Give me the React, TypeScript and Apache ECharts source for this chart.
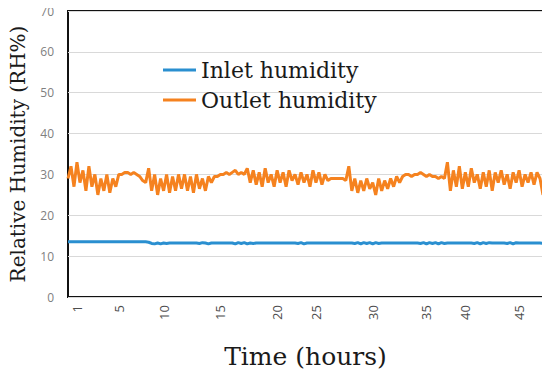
import React, { useEffect, useRef } from "react";
import * as echarts from "echarts";

// Sample points (index along the time record)
const outletHumidity: number[] = [
  29, 32, 27, 33, 28, 31, 26, 32, 27, 30, 25, 29, 26, 30, 25.5, 29, 27, 30,
  30, 30.5, 30.5, 30, 30.5, 30, 29.5,
  28.5, 28,
  31.5, 26, 30, 25, 29, 26, 30, 25.5, 29.5, 26, 30, 26.5, 30, 26, 29.5, 25.5, 30, 26.5, 29, 26, 29.5, 28,
  29.5, 29.5, 30, 30, 30.5, 30, 30.5, 31, 30, 30.5, 30,
  31.5, 28, 31, 27.5, 30.5, 27, 31.5, 28, 30, 27, 31, 28, 30.5, 27, 31, 28.5, 30, 27.5, 30.5, 28, 30, 27, 31, 28, 30.5, 27.5, 30, 28.5,
  29, 29, 29, 29, 29, 28.5,
  32,
  26, 29, 25.5, 28.5, 26, 29, 26.5, 28, 25, 29, 26, 28.5, 26.5, 29, 27, 29.5, 28,
  29.5, 30, 30, 29.5, 30, 30, 30.5, 30, 29.5, 30, 29.5, 29.5, 29, 29.5, 29,
  33,
  26, 31, 27, 32, 26.5, 30.5, 27, 31.5, 28, 30, 26.5, 30.5, 27, 31, 26, 30.5, 28, 31, 27.5, 30, 26.5, 30.5, 28, 31, 27, 30, 28, 30.5, 27.5, 30.5, 29, 25,
];

const inletHumidity: number[] = [
  13.5, 13.5, 13.5, 13.5, 13.5, 13.5, 13.5, 13.5, 13.5, 13.5, 13.5, 13.5, 13.5, 13.5,
  13.5, 13.5, 13.5, 13.5, 13.5, 13.5, 13.5, 13.5, 13.5, 13.5, 13.5, 13.5, 13.5, 13.4,
  13.1, 13.0, 13.2, 13.0, 13.2, 13.1, 13.2, 13.2, 13.2, 13.2, 13.2, 13.2, 13.2, 13.2,
  13.2, 13.2, 13.1, 13.3, 13.2, 13.0, 13.2, 13.2, 13.2, 13.2, 13.2, 13.2, 13.2, 13.2,
  13.0, 13.3, 13.1, 13.3, 13.0, 13.2, 13.1, 13.2, 13.2, 13.2, 13.2, 13.2, 13.2, 13.2,
  13.2, 13.2, 13.2, 13.2, 13.2, 13.2, 13.2, 13.1, 13.3, 13.0, 13.2, 13.2, 13.2, 13.2,
  13.2, 13.2, 13.2, 13.2, 13.2, 13.2, 13.2, 13.2, 13.2, 13.2, 13.2, 13.2, 13.1, 13.3,
  13.0, 13.3, 13.1, 13.3, 13.0, 13.3, 13.1, 13.2, 13.2, 13.2, 13.2, 13.2, 13.2, 13.2,
  13.2, 13.2, 13.2, 13.2, 13.2, 13.2, 13.1, 13.3, 13.0, 13.3, 13.1, 13.3, 13.0, 13.3,
  13.1, 13.2, 13.2, 13.2, 13.2, 13.2, 13.2, 13.2, 13.2, 13.2, 13.1, 13.3, 13.0, 13.3,
  13.1, 13.3, 13.2, 13.2, 13.2, 13.2, 13.2, 13.1, 13.3, 13.0, 13.3, 13.2, 13.2, 13.2,
  13.2, 13.2, 13.2, 13.2, 13.2, 13.1,
];

const tickIndices: number[] = [3, 17, 32, 51, 70, 83, 102, 120, 133, 151];
const tickLabels: string[] = ["1", "5", "10", "15", "20", "25", "30", "35", "40", "45"];

const categories: string[] = outletHumidity.map((_, i) => String(i));

const serif = "'DejaVu Serif', 'Liberation Serif', serif";

export default function App() {
  const ref = useRef<HTMLDivElement>(null);
  useEffect(() => {
    if (!ref.current) return;
    const chart = echarts.init(ref.current, null, { renderer: "svg" });
    chart.setOption({
      animation: false,
      backgroundColor: "#fff",
      grid: {
        left: 66,
        right: 7,
        top: 11,
        bottom: 84,
        show: true,
        borderColor: "#111",
        borderWidth: 2,
        backgroundColor: "transparent",
      },
      legend: {
        orient: "vertical",
        left: 158,
        top: 54,
        itemGap: 8,
        icon: "rect",
        itemWidth: 33,
        itemHeight: 3,
        textStyle: { fontFamily: serif, fontSize: 22, color: "#1a1a1a" },
        data: ["Inlet humidity", "Outlet humidity"],
      },
      xAxis: {
        type: "category",
        data: categories,
        boundaryGap: false,
        axisLine: { show: false },
        axisTick: { show: false },
        splitLine: { show: false },
        axisLabel: {
          rotate: 90,
          margin: 8,
          color: "#4d4d4d",
          fontSize: 13,
          fontFamily: "'Open Sans', sans-serif",
          interval: (index: number) => tickIndices.indexOf(index) >= 0,
          formatter: (_v: string, index: number) => {
            const k = tickIndices.indexOf(index);
            return k >= 0 ? tickLabels[k] : "";
          },
        },
        name: "Time (hours)",
        nameLocation: "middle",
        nameGap: 47,
        nameTextStyle: { fontFamily: serif, fontSize: 25, color: "#1a1a1a" },
      },
      yAxis: {
        type: "value",
        min: 0,
        max: 70,
        interval: 10,
        axisLine: { show: false },
        axisTick: { show: false },
        splitLine: { show: true, lineStyle: { color: "#d9d9d9", width: 1 } },
        axisLabel: {
          margin: 14,
          color: "#808080",
          fontSize: 12,
          fontFamily: "'Open Sans', sans-serif",
        },
        name: "Relative Humidity (RH%)",
        nameLocation: "middle",
        nameGap: 40,
        nameTextStyle: { fontFamily: serif, fontSize: 20, color: "#1a1a1a" },
      },
      series: [
        {
          name: "Inlet humidity",
          type: "line",
          data: inletHumidity,
          showSymbol: false,
          lineStyle: { color: "#2a8fd0", width: 3 },
          itemStyle: { color: "#2a8fd0" },
          z: 3,
        },
        {
          name: "Outlet humidity",
          type: "line",
          data: outletHumidity,
          showSymbol: false,
          lineStyle: { color: "#f5821f", width: 3 },
          itemStyle: { color: "#f5821f" },
          z: 3,
        },
      ],
    });
    return () => chart.dispose();
  }, []);
  return <div ref={ref} style={{ width: 550, height: 381, margin: -8 }} />;
}
